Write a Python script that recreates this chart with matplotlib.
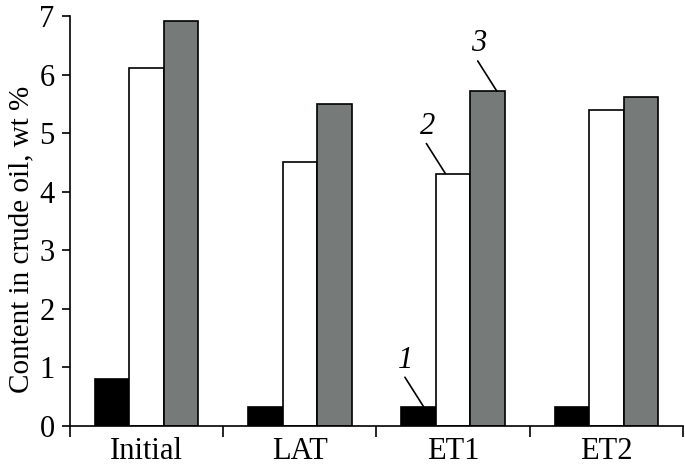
import numpy as np
import matplotlib.pyplot as plt
from matplotlib import font_manager as fm

# Data
categories = ['Initial', 'LAT', 'ET1', 'ET2']
series1 = [0.80, 0.32, 0.32, 0.32]   # black
series2 = [6.12, 4.51, 4.31, 5.40]   # white
series3 = [6.92, 5.50, 5.72, 5.61]   # gray

# pick a Times-like serif font if it's there
serif = 'DejaVu Serif'
for f in fm.fontManager.ttflist:
    if 'Liberation Serif' in f.name or 'LiberationSerif' in f.fname:
        serif = f.name
        break
plt.rcParams['font.family'] = [serif, 'DejaVu Serif']

fig = plt.figure(figsize=(6.85, 4.73), dpi=100)
ax = fig.add_axes([0.102, 0.0994, 0.895, 0.8668])

x = np.arange(len(categories))
w = 0.225
ax.bar(x - w, series1, w, color='black', edgecolor='black', linewidth=1.2)
ax.bar(x, series2, w, color='white', edgecolor='black', linewidth=1.2)
ax.bar(x + w, series3, w, color='#767a79', edgecolor='black', linewidth=1.2)

ax.set_xlim(-0.5, 3.5)
ax.set_ylim(0, 7)
ax.set_yticks(range(0, 8))
ax.tick_params(axis='y', labelsize=22, direction='out', length=6, width=1.2, pad=5)
ax.set_xticks(x)
ax.set_xticklabels(categories)
ax.tick_params(axis='x', which='major', labelsize=22, length=0, pad=8)
ax.set_xticks(np.arange(-0.5, 4.0, 1.0), minor=True)
ax.tick_params(axis='x', which='minor', direction='out', length=8, width=1.2)
ax.spines['top'].set_visible(False)
ax.spines['right'].set_visible(False)
ax.spines['left'].set_linewidth(1.2)
ax.spines['bottom'].set_linewidth(1.2)
ax.set_ylabel('Content in crude oil, wt %', fontsize=21)
ax.yaxis.set_label_coords(-0.058, 0.454)

# series labels with leader lines on the ET1 group
i = 2
labels = ['1', '2', '3']
vals = [series1[i], series2[i], series3[i]]
ends = [0.035, -0.05, 0.06]          # where the line touches the bar top
for k, (lab, v) in enumerate(zip(labels, vals)):
    xe = i + (k - 1) * w + ends[k]
    ax.annotate('', xy=(xe, v), xytext=(-19, 30), textcoords='offset pixels',
                arrowprops=dict(arrowstyle='-', color='black', lw=1.2,
                                shrinkA=0, shrinkB=0))
    ax.annotate(lab, xy=(xe, v), xytext=(-18, 47), textcoords='offset pixels',
                fontsize=22, style='italic', ha='center', va='center')

fig.savefig('out.png', dpi=100)
